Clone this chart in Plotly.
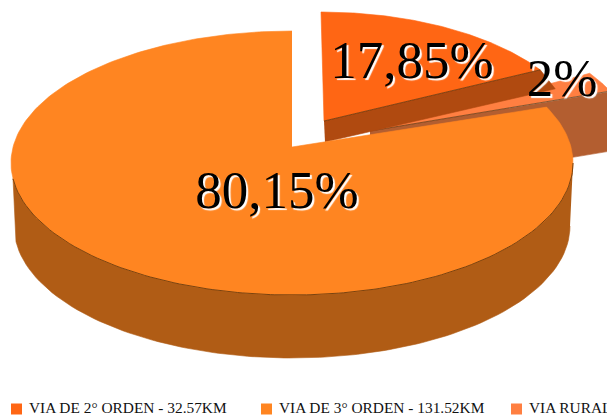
# 3D style pie chart, Plotly has no tilted pie so the faces are drawn as filled scatter traces
import numpy as np
import plotly.graph_objects as go

# data
categories = ["VIA DE 2° ORDEN", "VIA DE 3° ORDEN", "VIA RURAL"]
lengths_km = ["32.57KM", "131.52KM", "3.28KM"]
shares = [17.85, 80.15, 2.0]
share_labels = ["17,85%", "80,15%", "2%"]

# colours
TOP_COLORS = ["#FF6614", "#FF8521", "#FF7F41"]
SIDE_COLORS = ["#B04A10", "#B05C15", "#B35E30"]
EDGE = "#5C3208"

# geometry in page pixels
WIDTH, HEIGHT = 607, 416
RX, RY = 281, 132
DEPTH = 63
WARP = 10.8  # perspective squeeze of the angles

centers = {"VIA DE 2° ORDEN": (321, 144), "VIA DE 3° ORDEN": (292, 163), "VIA RURAL": (370, 147)}
apexes = {"VIA DE 2° ORDEN": (324, 121), "VIA DE 3° ORDEN": (292, 147), "VIA RURAL": (370, 131)}
radii_x = {"VIA DE 2° ORDEN": 265, "VIA DE 3° ORDEN": RX, "VIA RURAL": 265}
label_pos = {"VIA DE 2° ORDEN": (412, 65), "VIA DE 3° ORDEN": (277, 195), "VIA RURAL": (562, 83)}
legend_x = [16.5, 266.5, 516.5]
LEGEND_Y = 409


def view(theta):
    return theta - WARP * np.sin(np.radians(2 * theta))


def arc(name, t0, t1, dy=0, rx=None, n=120):
    th = np.radians(view(np.linspace(t0, t1, n)))
    cx, cy = centers[name]
    rx = rx or radii_x[name]
    return cx + rx * np.sin(th), cy - RY * np.cos(th) + dy


def polygon(xs, ys, color, line=None):
    return go.Scatter(
        x=xs, y=ys, mode="lines", fill="toself", fillcolor=color,
        line=dict(color=line or color, width=0.6), hoverinfo="skip", showlegend=False,
    )


# slice angles: 2° orden from the top, then rural, then 3° orden back to the top
second, third, rural = categories
a_second = shares[0] * 3.6
a_rural = a_second + shares[2] * 3.6

fig = go.Figure()

# rural slice, side then top
x_r, y_r = arc(rural, a_second, a_rural)
ax, ay = apexes[rural]
xs, ys = arc(rural, a_rural, a_rural + 8)
xb, yb = arc(rural, a_rural + 8, a_rural, dy=60)
fig.add_trace(polygon(np.r_[ax, xs, xb, ax], np.r_[ay, ys, yb, ay + 60], SIDE_COLORS[2]))
fig.add_trace(polygon(np.r_[ax, x_r], np.r_[ay, y_r], TOP_COLORS[2]))
fig.add_trace(go.Scatter(
    x=[ax, x_r[-1]], y=[ay, y_r[-1]],
    mode="lines", line=dict(color=EDGE, width=0.7), hoverinfo="skip", showlegend=False,
))

# 2° orden slice, cut face then top
x_s, y_s = arc(second, 0, a_second)
ax, ay = apexes[second]
fig.add_trace(polygon(
    [ax, x_s[-1], x_s[-1] + 15, ax + 1], [ay, y_s[-1], y_s[-1] + 19, ay + 21],
    SIDE_COLORS[0],
))
fig.add_trace(polygon(np.r_[ax, x_s], np.r_[ay, y_s], TOP_COLORS[0]))
fig.add_trace(go.Scatter(
    x=[ax, x_s[-1]], y=[ay, y_s[-1]],
    mode="lines", line=dict(color=EDGE, width=0.7), hoverinfo="skip", showlegend=False,
))

# 3° orden slice, side then top
xt, yt = arc(third, 90, 265)
xb, yb = arc(third, 265, 90, dy=DEPTH, rx=RX - 3)
fig.add_trace(polygon(np.r_[xt, xb], np.r_[yt, yb], SIDE_COLORS[1]))
x_m, y_m = arc(third, a_rural, 360, n=300)
fig.add_trace(polygon(
    np.r_[apexes[third][0], x_m], np.r_[apexes[third][1], y_m], TOP_COLORS[1],
))
fig.add_trace(go.Scatter(
    x=xt, y=yt, mode="lines", line=dict(color=EDGE, width=0.8),
    hoverinfo="skip", showlegend=False,
))

# percentage labels
fig.add_trace(go.Scatter(
    x=[label_pos[c][0] for c in categories],
    y=[label_pos[c][1] for c in categories],
    text=share_labels,
    mode="text",
    textposition="middle center",
    textfont=dict(
        family="Liberation Serif", size=53, color="#000000",
        shadow="2px 2px 1px #FFFFFF",
    ),
    hoverinfo="skip",
    showlegend=False,
    cliponaxis=False,
))

# legend row, it runs off the page on the right like the original
fig.add_trace(go.Scatter(
    x=legend_x,
    y=[LEGEND_Y] * len(categories),
    mode="markers",
    marker=dict(symbol="square", size=11, color=TOP_COLORS),
    hoverinfo="skip",
    showlegend=False,
))
fig.add_trace(go.Scatter(
    x=[x + 12.5 for x in legend_x],
    y=[LEGEND_Y] * len(categories),
    text=[f"{c} - {k}" for c, k in zip(categories, lengths_km)],
    mode="text",
    textposition="middle right",
    textfont=dict(family="Liberation Serif", size=15.4, color="#111111"),
    hoverinfo="skip",
    showlegend=False,
))

fig.update_xaxes(visible=False, range=[0, WIDTH], fixedrange=True)
fig.update_yaxes(visible=False, range=[HEIGHT, 0], fixedrange=True)
fig.update_layout(
    width=WIDTH,
    height=HEIGHT,
    autosize=False,
    showlegend=False,
    plot_bgcolor="#FFFFFF",
    paper_bgcolor="#FFFFFF",
    margin=dict(l=0, r=0, t=0, b=0),
)

fig.write_html(
    "out.html",
    config={"displayModeBar": False},
    post_script="document.body.style.margin='0';document.documentElement.style.overflow='hidden';",
)
